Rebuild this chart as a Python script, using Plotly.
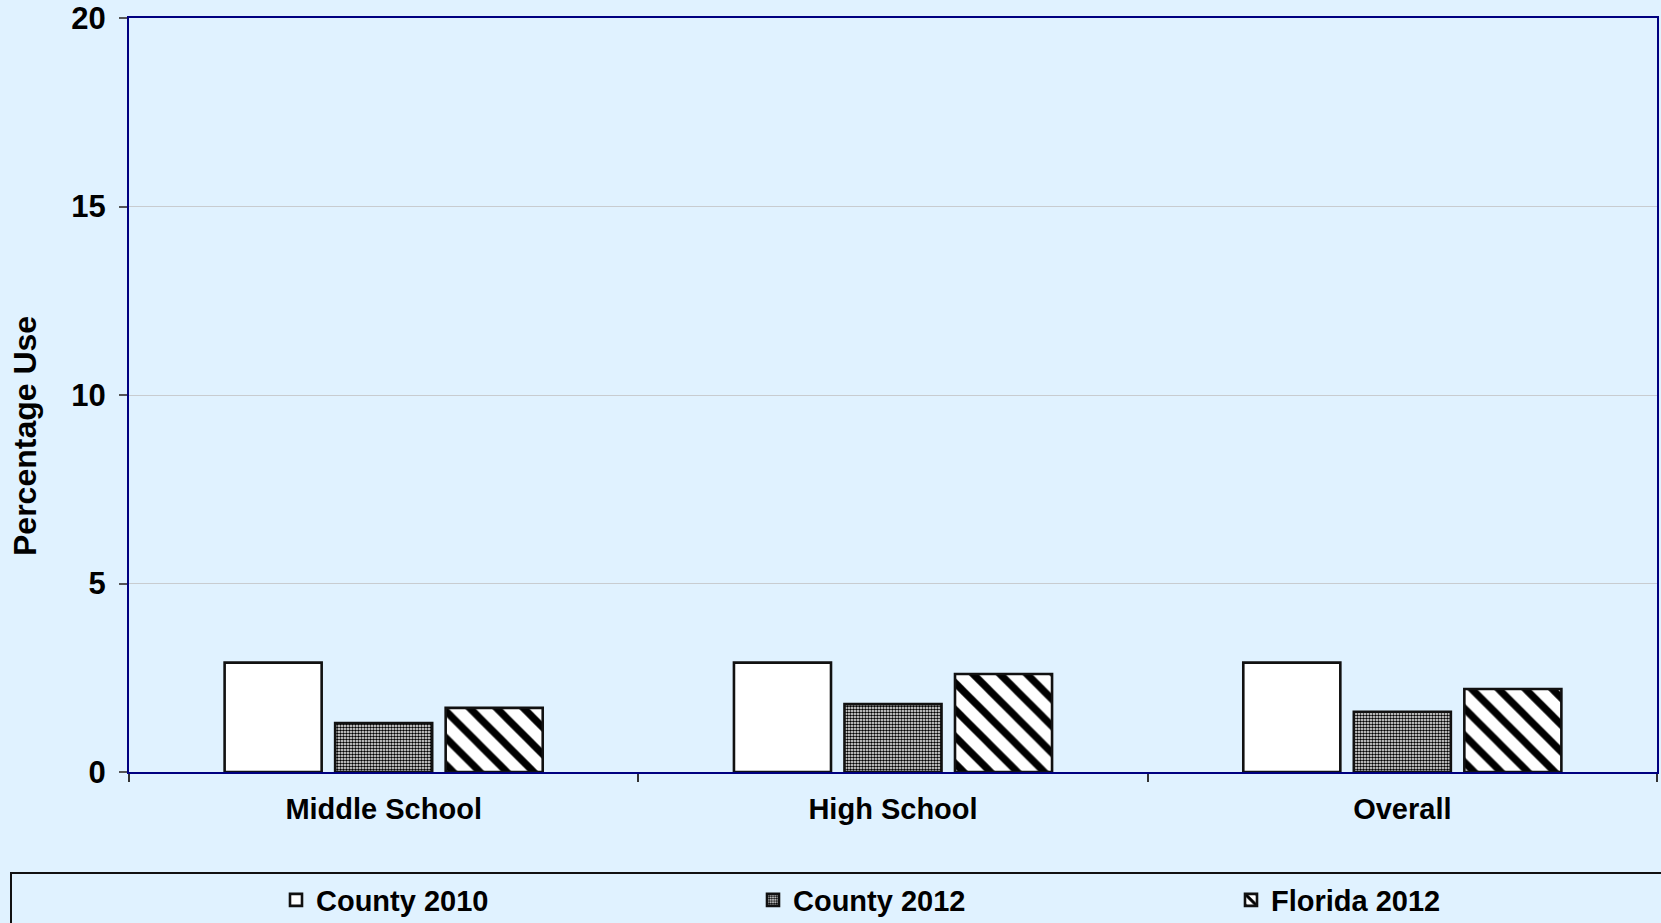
import plotly.graph_objects as go

categories = ["Middle School", "High School", "Overall"]
series_names = ["County 2010", "County 2012", "Florida 2012"]
county_2010 = [2.9, 2.9, 2.9]
county_2012 = [1.3, 1.8, 1.6]
florida_2012 = [1.7, 2.6, 2.2]
y_ticks = [0, 5, 10, 15, 20]

BG = "#E0F2FF"
FONT = "Liberation Sans, Arial, sans-serif"

W, H = 1661, 923
L, R, T, B = 129, 4, 18, 151
pw, ph = W - L - R, H - T - B


def px_x(p):
    return (p - L) / pw


def px_y(p):
    return (H - B - p) / ph


patterns = [
    dict(shape="", fgcolor="black", bgcolor="white"),
    dict(shape=".", size=3, solidity=0.55, fgcolor="black", bgcolor="white", fillmode="replace"),
    dict(shape="\\", size=19, solidity=0.38, fgcolor="black", bgcolor="white", fillmode="replace"),
]
legend_ids = ["legend", "legend2", "legend3"]
legend_text_x = [315, 792, 1270]

fig = go.Figure()
for name, vals, pat, lid in zip(series_names, [county_2010, county_2012, florida_2012], patterns, legend_ids):
    fig.add_trace(go.Bar(
        x=categories, y=vals, name=name, legend=lid,
        marker=dict(color="white", line=dict(color="#111111", width=2.6), pattern=pat),
    ))

legend_font = dict(family=FONT, size=29, color="black", weight="bold")
legends = {}
for lid, tx in zip(legend_ids, legend_text_x):
    legends[lid] = dict(
        orientation="h", x=px_x(tx - 39), xanchor="left", y=px_y(900), yanchor="middle",
        bgcolor="rgba(0,0,0,0)", borderwidth=0, font=legend_font,
    )

fig.update_layout(
    width=W, height=H,
    margin=dict(l=L, r=R, t=T, b=B, pad=0, autoexpand=False),
    paper_bgcolor=BG, plot_bgcolor=BG,
    font=dict(family=FONT, size=29, color="black", weight="bold"),
    barmode="group", bargap=0.349, bargroupgap=0.122,
    showlegend=True,
    xaxis=dict(
        type="category", tickson="boundaries", ticks="outside", ticklen=8, tickwidth=2,
        tickcolor="#333333", showgrid=False,
        showline=True, linecolor="#000080", linewidth=2, mirror=True,
        tickfont=dict(family=FONT, size=29, weight="bold"),
        ticklabelstandoff=10,
    ),
    yaxis=dict(
        range=[0, 20], tickvals=y_ticks, ticks="outside", ticklen=8, tickwidth=2,
        tickcolor="#555555", showgrid=True, gridcolor="#C8CCD0", gridwidth=1,
        showline=True, linecolor="#000080", linewidth=2, mirror=True, zeroline=False,
        tickfont=dict(family=FONT, size=31, weight="bold"),
        ticklabelstandoff=7,
    ),
    shapes=[dict(
        type="rect", xref="paper", yref="paper",
        x0=px_x(11), x1=px_x(1700), y0=px_y(873), y1=px_y(960),
        line=dict(color="#111111", width=2), fillcolor="rgba(0,0,0,0)", layer="above",
    )],
    annotations=[dict(
        text="Percentage Use", textangle=-90, xref="paper", yref="paper",
        x=px_x(25), y=px_y(436), xanchor="center", yanchor="middle", showarrow=False,
        font=dict(family=FONT, size=32, color="black", weight="bold"),
    )],
    **legends,
)

fig.write_html(
    "out.html",
    config={"displayModeBar": False},
    post_script="document.body.style.margin='0';document.body.style.overflow='hidden';",
)
